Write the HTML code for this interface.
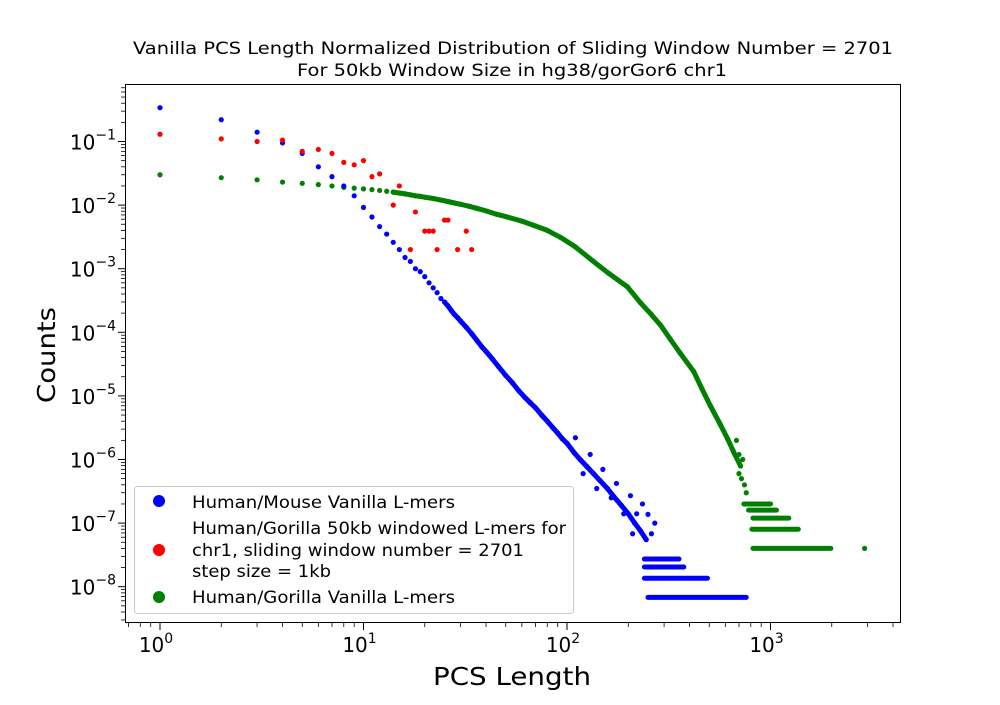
<!DOCTYPE html>
<html><head><meta charset="utf-8"><style>
body{margin:0;background:#fff;}
svg text{font-family:"DejaVu Sans","Liberation Sans",sans-serif;fill:#000;}
</style></head><body>
<svg id="chart" width="1000" height="700" xmlns="http://www.w3.org/2000/svg">
<rect width="1000" height="700" fill="#fff"/>
<text x="133" y="54" font-size="17" textLength="760" lengthAdjust="spacingAndGlyphs">Vanilla PCS Length Normalized Distribution of Sliding Window Number = 2701</text>
<text x="297" y="76" font-size="17" textLength="430" lengthAdjust="spacingAndGlyphs">For 50kb Window Size in hg38/gorGor6 chr1</text>
<text x="433" y="685" font-size="25" textLength="158" lengthAdjust="spacingAndGlyphs">PCS Length</text>
<text transform="translate(55,403) rotate(-90)" font-size="25" textLength="96" lengthAdjust="spacingAndGlyphs">Counts</text>
<g id="axes"></g>
<g id="marks"></g>
<rect x="125.5" y="84.5" width="775" height="538" fill="none" stroke="#000" stroke-width="1"/>
<g>
<rect x="134.5" y="486.5" width="439" height="127" rx="3" fill="#fff" fill-opacity="0.8" stroke="#ccc"/>
<circle cx="159" cy="501" r="6" fill="#0000ff"/>
<text x="192" y="508" font-size="17" textLength="263" lengthAdjust="spacingAndGlyphs">Human/Mouse Vanilla L-mers</text>
<circle cx="159" cy="550" r="6" fill="#ff0000"/>
<text x="192" y="534" font-size="17" textLength="374" lengthAdjust="spacingAndGlyphs">Human/Gorilla 50kb windowed L-mers for</text>
<text x="192" y="556" font-size="17" textLength="332" lengthAdjust="spacingAndGlyphs">chr1, sliding window number = 2701</text>
<text x="192" y="577" font-size="17" textLength="139" lengthAdjust="spacingAndGlyphs">step size = 1kb</text>
<circle cx="159" cy="597" r="6" fill="#008000"/>
<text x="192" y="603" font-size="17" textLength="263" lengthAdjust="spacingAndGlyphs">Human/Gorilla Vanilla L-mers</text>
</g>
</svg>
<script>
const blueX=[1,2,3,4,5,6,7,8,9,10,11,12,13,14,15,16,17,18,19,20,21,22,23,24,25,26,27,28,29,30,32,34,36,38,40,43,46,50,54,58,62,66,70,75,80,85,90,95,100,108,116,125,135,145,158,170,185,200,215,230,245];
const blueY=[.34,.22,.14,.095,.065,.040,.028,.020,.014,.0092,.0065,.0046,.0035,.0026,.0020,.0015,.0013,.0010,.0009,.00075,.0006,.0005,.00042,.00034,.0003,.00026,.00022,.00019,.00017,.00015,.00012,.000095,.000075,.00006,.00005,.000038,.000029,.000021,.000016,.000012,.0000095,.0000078,.0000065,.000005,.000004,.0000032,.0000026,.0000021,.0000018,.0000013,.000001,7.8e-7,6e-7,4.7e-7,3.5e-7,2.6e-7,1.9e-7,1.4e-7,1e-7,7.5e-8,5.5e-8];
const blueScatterX=[110,120,130,140,150,165,175,190,205,210,220,235,250,260,270];
const blueScatterY=[2.2e-6,6e-7,1.2e-6,3.5e-7,7e-7,2.5e-7,4.2e-7,1.4e-7,2.7e-7,6.8e-8,1.4e-7,2e-7,1.37e-7,6.8e-8,1e-7];
const blueLevelY=[2.72e-8,2.04e-8,1.36e-8,6.8e-9];
const blueLevelMin=[240,240,240,250];
const blueLevelMax=[355,375,490,760];
const greenX=[1,2,3,4,5,6,7,8,9,10,11,12,13,14,15,16,17,18,19,20,22,24,26,28,30,33,36,40,45,50,60,70,80,93,110,135,160,198,230,260,288,320,360,420,460,507,560,616,660,713];
const greenY=[.030,.027,.025,.023,.022,.021,.020,.019,.0185,.018,.0175,.017,.0165,.016,.0155,.015,.0145,.014,.0137,.0133,.0127,.012,.0114,.0108,.0103,.0096,.0089,.0081,.0072,.0066,.0056,.0047,.0040,.0031,.0022,.0013,.00085,.00052,.00029,.00019,.00013,.00008,.000047,.000024,.000013,.0000069,.0000038,.0000021,.0000013,7.9e-7];
const greenScatterX=[680,700,720,730,745,760,700,2900];
const greenScatterY=[2e-6,1.2e-6,5e-7,1e-6,4e-7,3e-7,6e-7,4e-8];
const greenLevelY=[2e-7,1.6e-7,1.2e-7,8e-8,4e-8];
const greenLevelMin=[740,780,820,810,820];
const greenLevelMax=[1000,1070,1230,1370,1980];
const redX=[1,2,3,4,5,6,7,8,9,10,11,12,14,15,17,18,20,21,22,23,25,26,29,32,34];
const redY=[.13,.11,.10,.105,.07,.075,.065,.047,.043,.05,.028,.031,.01,.02,.002,.0078,.0039,.0039,.0039,.002,.0058,.0058,.002,.0039,.002];
const xTickExp=[0,1,2,3];
const yTickExp=[-1,-2,-3,-4,-5,-6,-7,-8];

const NS='http://www.w3.org/2000/svg';
const X0=160,XD=203.5,Y1=141.5,YD=63.6;
function sx(v){return X0+Math.log10(v)*XD;}
function sy(v){return Y1+(-1-Math.log10(v))*YD;}
const axes=document.getElementById('axes'),marks=document.getElementById('marks');
function mk(tag,attrs,parent){const e=document.createElementNS(NS,tag);for(const k in attrs)e.setAttribute(k,attrs[k]);parent.appendChild(e);return e;}
for(const e of xTickExp){
  const x=sx(Math.pow(10,e));
  const t=mk('line',{x1:x,x2:x,y1:623,y2:630,stroke:'#000'},axes);
  
  
  const lab=mk('text',{x:x-4,y:652,'font-size':20,'text-anchor':'middle'},axes);
  
  
  lab.innerHTML='10<tspan dy="-9" font-size="14">'+e+'</tspan>';
}
for(let e=-1;e<4;e++)for(let m=2;m<10;m++){
  const x=sx(m*Math.pow(10,e));if(x<126||x>900)continue;
  const t=mk('line',{x1:x,x2:x,y1:623,y2:627,stroke:'#000','stroke-width':0.8},axes);
  
  
}
for(const e of yTickExp){
  const y=sy(Math.pow(10,e));
  const t=mk('line',{x1:118,x2:125,y1:y,y2:y,stroke:'#000'},axes);
  
  
  const lab=mk('text',{x:116,y:y+8,'font-size':20,'text-anchor':'end'},axes);
  
  
  lab.innerHTML='10<tspan dy="-10" font-size="14">\u2212'+(-e)+'</tspan>';
}
for(let e=-9;e<0;e++)for(let m=2;m<10;m++){
  const y=sy(m*Math.pow(10,e));if(y<85||y>622)continue;
  const t=mk('line',{x1:121,x2:125,y1:y,y2:y,stroke:'#000','stroke-width':0.8},axes);
  
  
}
function curve(xs,ys,color,name,from){
  let pts=[];for(let i=0;i<xs.length;i++){if(xs[i]>=from)pts.push(sx(xs[i]).toFixed(1)+','+sy(ys[i]).toFixed(1));}
  const p=mk('polyline',{points:pts.join(' '),fill:'none',stroke:color,'stroke-width':5,'stroke-linecap':'round','stroke-linejoin':'round'},marks);
  
  
}
function dots(xs,ys,color,name){
  for(let i=0;i<xs.length;i++){
    const c=mk('circle',{cx:sx(xs[i]),cy:sy(ys[i]),r:2.6,fill:color},marks);
    
    
  }
}
function levels(ys,mins,maxs,color,name){
  for(let i=0;i<ys.length;i++){
    const l=mk('line',{x1:sx(mins[i]),x2:sx(maxs[i]),y1:sy(ys[i]),y2:sy(ys[i]),stroke:color,'stroke-width':5,'stroke-linecap':'round'},marks);
    
    
  }
}
curve(greenX,greenY,'#008000','green-trend',14);
dots(greenX,greenY,'#008000','green-point');
dots(greenScatterX,greenScatterY,'#008000','green-scatter-point');
levels(greenLevelY,greenLevelMin,greenLevelMax,'#008000','green-level-run');
curve(blueX,blueY,'#0000ff','blue-trend',25);
dots(blueX,blueY,'#0000ff','blue-point');
dots(blueScatterX,blueScatterY,'#0000ff','blue-scatter-point');
levels(blueLevelY,blueLevelMin,blueLevelMax,'#0000ff','blue-level-run');
dots(redX,redY,'#ff0000','red-point');
</script>
</body></html>
